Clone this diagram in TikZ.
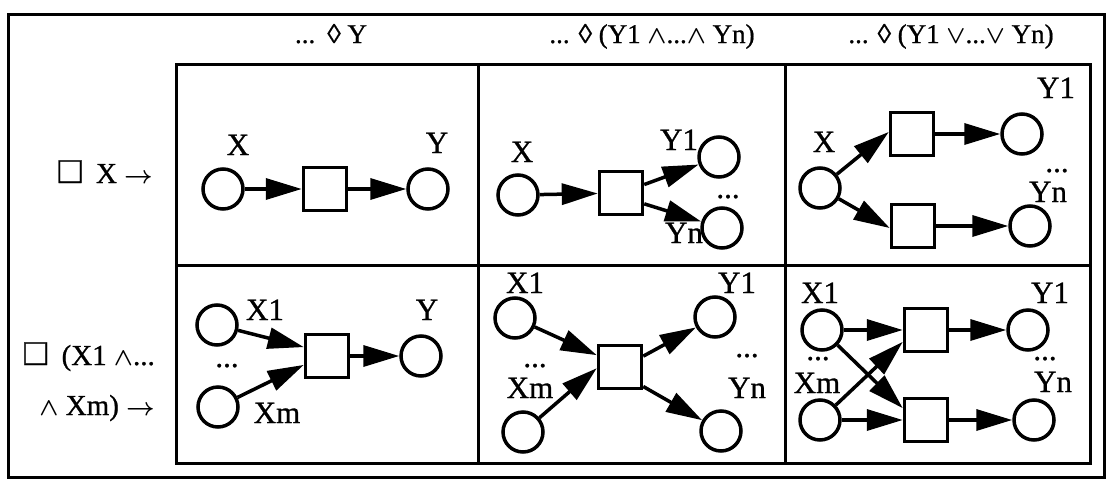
\documentclass[tikz,border=0pt]{standalone}
\usepackage{amsmath}
\usepackage{amssymb}
\usepackage{fontspec}
\setmainfont{Liberation Serif}[BoldFont={Liberation Serif},BoldFeatures={FakeBold=0.8}]
\usetikzlibrary{arrows.meta}
\tikzset{
  pnode/.style={circle,draw,line width=3.5pt,minimum size=40pt,inner sep=0pt},
  tnode/.style={rectangle,draw,line width=3.5pt,minimum size=43pt,inner sep=0pt},
  flowarr/.style={line width=3.5pt,-{Triangle[length=36pt,width=21pt]}},
  lbl/.style={anchor=base,inner sep=0pt,font=\fontsize{31}{34}\selectfont\bfseries},
  hdr/.style={anchor=base,inner sep=0pt,font=\fontsize{27}{30}\selectfont\bfseries},
  rowlbl/.style={anchor=base east,inner sep=0pt,font=\fontsize{29}{32}\selectfont\bfseries},
  gridline/.style={line width=3pt}
}
\newcommand{\bigsq}{{\fontsize{38}{38}\selectfont □}}
\newcommand{\wdg}{$\boldsymbol{\wedge}$}
\newcommand{\vbar}{$\boldsymbol{\vee}$}
\newcommand{\rarr}{$\boldsymbol{\rightarrow}$}
\begin{document}
\begin{tikzpicture}[x=1pt,y=-1pt]
\useasboundingbox (0,0) rectangle (1110,482);
% frames
\draw[gridline] (8,14) rectangle (1104,477);
\draw[gridline] (176,64) rectangle (1090,463);
\draw[gridline] (478,64) -- (478,463);
\draw[gridline] (785,64) -- (785,463);
\draw[gridline] (176,265) -- (1090,265);
% headers
\node[hdr] (h1) at (331,43) {...\hspace{0.45em}◊ Y};
\node[hdr] (h2) at (652,43) {... ◊ (Y1 \wdg...\wdg\ Yn)};
\node[hdr] (h3) at (951,43) {... ◊ (Y1 \vbar...\vbar\ Yn)};
% row labels
\node[rowlbl] (r1) at (153,183) {\bigsq\ \ X \rarr};
\node[rowlbl] (r2a) at (155,365) {\bigsq\ \ (X1 \wdg...};
\node[rowlbl] (r2b) at (155,415) {\wdg\ Xm) \rarr};
% cell 1,1
\node[pnode] (a1x) at (223,189) {};
\node[tnode] (a1s) at (325,189) {};
\node[pnode] (a1y) at (428,189) {};
\node[lbl] (a1lx) at (238,155) {X};
\node[lbl] (a1ly) at (437,153) {Y};
\draw[flowarr] (a1x) -- (a1s);
\draw[flowarr] (a1s) -- (a1y);
% cell 1,2
\node[pnode] (b1x) at (518,195) {};
\node[tnode] (b1s) at (621,193) {};
\node[pnode] (b1y1) at (719,157) {};
\node[pnode] (b1yn) at (722,228) {};
\node[lbl] (b1lx) at (522,162) {X};
\node[lbl] (b1ly1) at (679,150) {Y1};
\node[lbl] (b1lyn) at (684,243) {Yn};
\node[lbl] (b1dots) at (728,198) {...};
\draw[flowarr] (b1x) -- (b1s);
\draw[flowarr] (b1s.20) -- (b1y1);
\draw[flowarr] (b1s.335) -- (b1yn);
% cell 1,3
\node[pnode] (c1x) at (820,188) {};
\node[tnode] (c1s1) at (912,134) {};
\node[tnode] (c1s2) at (913,226) {};
\node[pnode] (c1y1) at (1022,134) {};
\node[pnode] (c1yn) at (1030,226) {};
\node[lbl] (c1lx) at (824,152) {X};
\node[lbl] (c1ly1) at (1056,98) {Y1};
\node[lbl] (c1dots) at (1057,172) {...};
\node[lbl] (c1lyn) at (1048,202) {Yn};
\draw[flowarr] (c1x) -- (c1s1.175);
\draw[flowarr] (c1x) -- (c1s2.185);
\draw[flowarr] (c1s1) -- (c1y1);
\draw[flowarr] (c1s2) -- (c1yn);
% cell 2,1
\node[pnode] (d2x1) at (217,325) {};
\node[pnode] (d2xm) at (218,407) {};
\node[tnode] (d2s) at (327,356) {};
\node[pnode] (d2y) at (421,356) {};
\node[lbl] (d2lx1) at (265,320) {X1};
\node[lbl] (d2ly) at (427,320) {Y};
\node[lbl] (d2lxm) at (277,423) {Xm};
\node[lbl] (d2dots) at (227,367) {...};
\draw[flowarr] (d2x1) -- (d2s.159);
\draw[flowarr] (d2xm) -- (d2s.201);
\draw[flowarr] (d2s) -- (d2y);
% cell 2,2
\node[pnode] (e2x1) at (515,318) {};
\node[pnode] (e2xm) at (523,432) {};
\node[tnode] (e2s) at (620,367) {};
\node[pnode] (e2y1) at (715,317) {};
\node[pnode] (e2yn) at (721,431) {};
\node[lbl] (e2lx1) at (525,293) {X1};
\node[lbl] (e2ly1) at (737,293) {Y1};
\node[lbl] (e2lxm) at (530,398) {Xm};
\node[lbl] (e2lyn) at (747,398) {Yn};
\node[lbl] (e2dotsl) at (535,367) {...};
\node[lbl] (e2dotsr) at (747,357) {...};
\draw[flowarr] (e2x1) -- (e2s.153);
\draw[flowarr] (e2xm) -- (e2s.183);
\draw[flowarr] (e2s.25) -- (e2y1);
\draw[flowarr] (e2s.320) -- (e2yn);
% cell 2,3
\node[pnode] (f2x1) at (822,330) {};
\node[pnode] (f2xm) at (820,420) {};
\node[tnode] (f2s1) at (926,330) {};
\node[tnode] (f2s2) at (926,420) {};
\node[pnode] (f2y1) at (1028,330) {};
\node[pnode] (f2yn) at (1034,420) {};
\node[lbl] (f2lx1) at (820,303) {X1};
\node[lbl] (f2lxm) at (817,393) {Xm};
\node[lbl] (f2dotsl) at (818,360) {...};
\node[lbl] (f2ly1) at (1050,303) {Y1};
\node[lbl] (f2lyn) at (1053,392) {Yn};
\node[lbl] (f2dotsr) at (1045,360) {...};
\draw[flowarr] (f2x1) -- (f2s1);
\draw[flowarr] (f2xm) -- (f2s2);
\draw[flowarr] (f2x1) -- (f2s2.153);
\draw[flowarr] (f2xm) -- (f2s1.207);
\draw[flowarr] (f2s1) -- (f2y1);
\draw[flowarr] (f2s2) -- (f2yn);
\end{tikzpicture}
\end{document}
